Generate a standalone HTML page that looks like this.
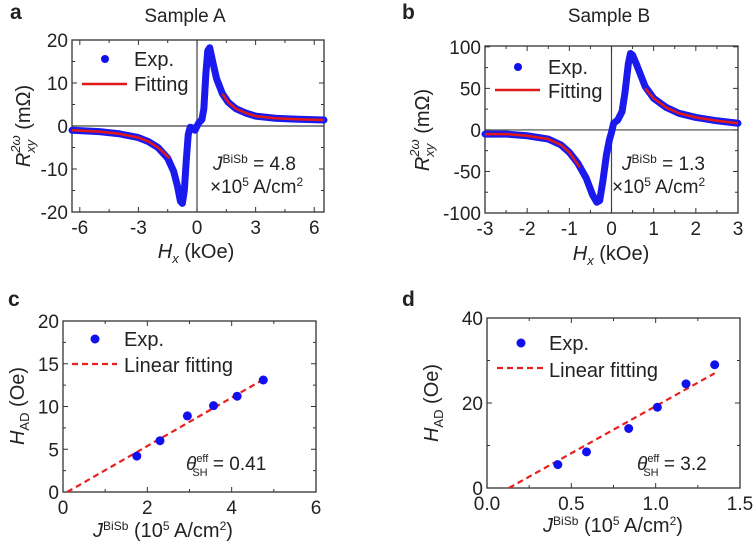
<!DOCTYPE html>
<html><head><meta charset="utf-8"><style>
body{margin:0;background:#fff}
svg{font-family:"Liberation Sans",Arial,sans-serif}
</style></head><body>
<svg id="fig" width="755" height="547" viewBox="0 0 755 547" xmlns="http://www.w3.org/2000/svg">
<g id="gA"></g>
<g id="gB"></g>
<g id="gC"></g>
<g id="gD"></g>
</svg>
<script>
// Panel a data
const aExpX=[-6.4,-5,-4,-3,-2.5,-2,-1.5,-1.2,-1,-0.85,-0.75,-0.65,-0.55,-0.45,-0.35,-0.2,-0.1,0,0.1,0.25,0.35,0.45,0.55,0.65,0.8,1,1.3,1.6,2,2.5,3,4,5,6.5];
const aExpY=[-1.0,-1.3,-1.8,-2.7,-3.6,-5,-7.5,-10.5,-14,-17.5,-18,-15,-8,-2,-0.3,-0.5,-1,0,0.8,1.5,4,12,17.5,18.2,15,11,7.5,5.5,4,3,2.3,1.8,1.6,1.4];
const aFitLX=[-6.4,-5,-4,-3,-2.5,-2,-1.7,-1.4];
const aFitLY=[-1.0,-1.3,-1.8,-2.7,-3.6,-5,-6.2,-7.5];
const aFitRX=[1.3,1.6,2,2.5,3,4,5,6.5];
const aFitRY=[7.5,5.5,4,3,2.3,1.8,1.6,1.4];
const aXTicks=[-6,-3,0,3,6];
const aYTicks=[-20,-10,0,10,20];
// Panel b data
const bExpX=[-3,-2.5,-2,-1.5,-1.2,-1,-0.8,-0.6,-0.45,-0.35,-0.28,-0.2,-0.12,-0.05,0,0.05,0.15,0.25,0.32,0.4,0.45,0.5,0.6,0.8,1,1.3,1.6,2,2.5,3];
const bExpY=[-5,-5,-7,-11,-18,-27,-40,-58,-78,-87,-85,-60,-30,-12,-3,8,12,22,45,80,92,90,78,52,38,27,20,15,11,8];
const bFitLX=[-3,-2.5,-2,-1.5,-1.2,-1,-0.75];
const bFitLY=[-5,-5,-7,-11,-18,-27,-45];
const bFitRX=[0.8,1,1.3,1.6,2,2.5,3];
const bFitRY=[50,38,27,20,15,11,8];
const bXTicks=[-3,-2,-1,0,1,2,3];
const bYTicks=[-100,-50,0,50,100];
// Panel c data
const cX=[1.75,2.3,2.95,3.57,4.13,4.75];
const cY=[4.2,6.0,8.9,10.1,11.2,13.1];
const cFitX=[0.1,4.8];
const cFitY=[0,13.3];
const cXTicks=[0,2,4,6];
const cYTicks=[0,5,10,15,20];
// Panel d data
const dX=[0.42,0.59,0.84,1.01,1.18,1.35];
const dY=[5.5,8.5,14,19,24.5,29];
const dFitX=[0.13,1.35];
const dFitY=[0,27];
const dXTicks=[0.0,0.5,1.0,1.5];
const dYTicks=[0,20,40];

const NS="http://www.w3.org/2000/svg";
function mk(p,t,at,txt){const e=document.createElementNS(NS,t);for(const k in at)e.setAttribute(k,at[k]);if(txt!=null)e.textContent=txt;p.appendChild(e);return e;}
function axes(g,box,xr,yr,xt,yt,xfmt,yfmt,zero){
  const sx=v=>box.x0+(v-xr[0])/(xr[1]-xr[0])*(box.x1-box.x0);
  const sy=v=>box.y1-(v-yr[0])/(yr[1]-yr[0])*(box.y1-box.y0);
  if(zero){
    const h=mk(g,'line',{x1:box.x0,x2:box.x1,y1:sy(0),y2:sy(0),stroke:'#444','stroke-width':1.2});
    
    const v=mk(g,'line',{x1:sx(0),x2:sx(0),y1:box.y0,y2:box.y1,stroke:'#444','stroke-width':1.2});
    
  }
  const all=[];
  for(let i=0;i<xt.length;i++){all.push(['x',xt[i],5]);if(i<xt.length-1)all.push(['x',(xt[i]+xt[i+1])/2,3]);}
  for(let i=0;i<yt.length;i++){all.push(['y',yt[i],5]);if(i<yt.length-1)all.push(['y',(yt[i]+yt[i+1])/2,3]);}
  all.forEach(([a,v,L])=>{
    if(a==='x'){const X=sx(v);mk(g,'line',{x1:X,x2:X,y1:box.y1,y2:box.y1-L,stroke:'#333'});mk(g,'line',{x1:X,x2:X,y1:box.y0,y2:box.y0+L,stroke:'#333'});}
    else{const Y=sy(v);mk(g,'line',{x1:box.x0,x2:box.x0+L,y1:Y,y2:Y,stroke:'#333'});mk(g,'line',{x1:box.x1,x2:box.x1-L,y1:Y,y2:Y,stroke:'#333'});}
  });
  xt.forEach(v=>{const t=mk(g,'text',{x:sx(v),y:box.y1+22,'text-anchor':'middle','font-size':19,fill:'#222'},xfmt(v));});
  yt.forEach(v=>{const t=mk(g,'text',{x:box.x0-4,y:sy(v)+7,'text-anchor':'end','font-size':19,fill:'#222'},yfmt(v));});
  const r=mk(g,'rect',{x:box.x0,y:box.y0,width:box.x1-box.x0,height:box.y1-box.y0,fill:'none',stroke:'#333','stroke-width':1.3});
  
  return [sx,sy];
}
function poly(g,xs,ys,sx,sy,st,name){
  const e=mk(g,'polyline',Object.assign({points:xs.map((x,i)=>sx(x)+','+sy(ys[i])).join(' '),fill:'none'},st));
  
}
function dots(g,xs,ys,sx,sy,r,name){
  xs.forEach((x,i)=>{const c=mk(g,'circle',{cx:sx(x),cy:sy(ys[i]),r:r,fill:'#1010ee'});});
}
function html(g,x,y,markup,attrs){const t=mk(g,'text',Object.assign({x:x,y:y,'font-size':19,fill:'#222'},attrs||{}));t.innerHTML=markup;return t;}
const f0=v=>String(v), f1=v=>v.toFixed(1);

// Panel A
(function(){const g=document.getElementById('gA');
 const [sx,sy]=axes(g,{x0:72,x1:324,y0:40,y1:212},[-6.4,6.5],[-20,20],aXTicks,aYTicks,f0,f0,true);
 poly(g,aExpX,aExpY,sx,sy,{stroke:'#1a1aee','stroke-width':7,'stroke-linejoin':'round','stroke-linecap':'round'},'exp-data-a');
 poly(g,aFitLX,aFitLY,sx,sy,{stroke:'#e01818','stroke-width':2.5},'fit-line-a-left');
 poly(g,aFitRX,aFitRY,sx,sy,{stroke:'#e01818','stroke-width':2.5},'fit-line-a-right');
 let t=html(g,10,19,'a',{'font-weight':'bold','font-size':21});
 t=html(g,185,22,'Sample A',{'text-anchor':'middle'});
 const c=mk(g,'circle',{cx:105,cy:59,r:4,fill:'#1010ee'});
 t=html(g,134,66,'Exp.',{'font-size':20});
 const l=mk(g,'line',{x1:82,x2:127,y1:84,y2:84,stroke:'#e01818','stroke-width':2.5});
 t=html(g,134,91,'Fitting',{'font-size':20});
 t=html(g,213,170,'<tspan font-style="italic">J</tspan><tspan dy="-7" font-size="12">BiSb</tspan><tspan dy="7"> = 4.8</tspan>');
 t=html(g,210,193,'×10<tspan dy="-7" font-size="12">5</tspan><tspan dy="7"> A/cm</tspan><tspan dy="-7" font-size="12">2</tspan>');
 t=html(g,0,0,'<tspan font-style="italic">R</tspan><tspan dy="5" font-size="13" font-style="italic">xy</tspan><tspan dx="-13" dy="-15" font-size="13" font-style="italic">2ω</tspan><tspan dy="10"> (mΩ)</tspan>',{transform:'translate(30,126) rotate(-90)','text-anchor':'middle','font-size':20});
 t=html(g,196,258,'<tspan font-style="italic">H</tspan><tspan dy="5" font-size="13" font-style="italic">x</tspan><tspan dy="-5"> (kOe)</tspan>',{'text-anchor':'middle','font-size':20});
})();
// Panel B
(function(){const g=document.getElementById('gB');
 const [sx,sy]=axes(g,{x0:485,x1:738,y0:46,y1:213},[-3,3],[-100,101],bXTicks,bYTicks,f0,f0,true);
 poly(g,bExpX,bExpY,sx,sy,{stroke:'#1a1aee','stroke-width':7,'stroke-linejoin':'round','stroke-linecap':'round'},'exp-data-b');
 poly(g,bFitLX,bFitLY,sx,sy,{stroke:'#e01818','stroke-width':2.5},'fit-line-b-left');
 poly(g,bFitRX,bFitRY,sx,sy,{stroke:'#e01818','stroke-width':2.5},'fit-line-b-right');
 let t=html(g,402,19,'b',{'font-weight':'bold','font-size':21});
 t=html(g,609,22,'Sample B',{'text-anchor':'middle'});
 const c=mk(g,'circle',{cx:518,cy:67,r:4,fill:'#1010ee'});
 t=html(g,548,74,'Exp.',{'font-size':20});
 const l=mk(g,'line',{x1:495,x2:540,y1:90,y2:90,stroke:'#e01818','stroke-width':2.5});
 t=html(g,548,98,'Fitting',{'font-size':20});
 t=html(g,622,170,'<tspan font-style="italic">J</tspan><tspan dy="-7" font-size="12">BiSb</tspan><tspan dy="7"> = 1.3</tspan>');
 t=html(g,612,193,'×10<tspan dy="-7" font-size="12">5</tspan><tspan dy="7"> A/cm</tspan><tspan dy="-7" font-size="12">2</tspan>');
 t=html(g,0,0,'<tspan font-style="italic">R</tspan><tspan dy="5" font-size="13" font-style="italic">xy</tspan><tspan dx="-13" dy="-15" font-size="13" font-style="italic">2ω</tspan><tspan dy="10"> (mΩ)</tspan>',{transform:'translate(429,130) rotate(-90)','text-anchor':'middle','font-size':20});
 t=html(g,611,260,'<tspan font-style="italic">H</tspan><tspan dy="5" font-size="13" font-style="italic">x</tspan><tspan dy="-5"> (kOe)</tspan>',{'text-anchor':'middle','font-size':20});
})();
// Panel C
(function(){const g=document.getElementById('gC');
 const [sx,sy]=axes(g,{x0:63,x1:316,y0:321,y1:492},[0,6],[0,20],cXTicks,cYTicks,f0,f0,false);
 poly(g,cFitX,cFitY,sx,sy,{stroke:'#e82020','stroke-width':2.2,'stroke-dasharray':'6,4'},'linear-fit-c');
 dots(g,cX,cY,sx,sy,4.5,'exp-point-c');
 let t=html(g,8,306,'c',{'font-weight':'bold','font-size':21});
 const c=mk(g,'circle',{cx:95,cy:339,r:4.5,fill:'#1010ee'});
 t=html(g,124,346,'Exp.',{'font-size':20});
 const l=mk(g,'line',{x1:72,x2:117,y1:364,y2:364,stroke:'#e82020','stroke-width':2.2,'stroke-dasharray':'6,4'});
 t=html(g,124,372,'Linear fitting',{'font-size':20});
 t=html(g,186,470,'<tspan font-style="italic">θ</tspan><tspan dy="-8" font-size="11">eff</tspan><tspan dx="-16" dy="14" font-size="11">SH</tspan><tspan dy="-6"> = 0.41</tspan>');
 t=html(g,0,0,'<tspan font-style="italic">H</tspan><tspan dy="5" font-size="13">AD</tspan><tspan dy="-5"> (Oe)</tspan>',{transform:'translate(24,406) rotate(-90)','text-anchor':'middle','font-size':20});
 t=html(g,163,537,'<tspan font-style="italic">J</tspan><tspan dy="-7" font-size="12">BiSb</tspan><tspan dy="7"> (10</tspan><tspan dy="-7" font-size="12">5</tspan><tspan dy="7"> A/cm</tspan><tspan dy="-7" font-size="12">2</tspan><tspan dy="7">)</tspan>',{'text-anchor':'middle','font-size':20});
})();
// Panel D
(function(){const g=document.getElementById('gD');
 const [sx,sy]=axes(g,{x0:487,x1:740,y0:318,y1:488},[0,1.5],[0,40],dXTicks,dYTicks,f1,f0,false);
 poly(g,dFitX,dFitY,sx,sy,{stroke:'#e82020','stroke-width':2.2,'stroke-dasharray':'6,4'},'linear-fit-d');
 dots(g,dX,dY,sx,sy,4.5,'exp-point-d');
 let t=html(g,402,306,'d',{'font-weight':'bold','font-size':21});
 const c=mk(g,'circle',{cx:521,cy:343,r:4.5,fill:'#1010ee'});
 t=html(g,549,350,'Exp.',{'font-size':20});
 const l=mk(g,'line',{x1:497,x2:543,y1:368,y2:368,stroke:'#e82020','stroke-width':2.2,'stroke-dasharray':'6,4'});
 t=html(g,549,377,'Linear fitting',{'font-size':20});
 t=html(g,637,470,'<tspan font-style="italic">θ</tspan><tspan dy="-8" font-size="11">eff</tspan><tspan dx="-16" dy="14" font-size="11">SH</tspan><tspan dy="-6"> = 3.2</tspan>');
 t=html(g,0,0,'<tspan font-style="italic">H</tspan><tspan dy="5" font-size="13">AD</tspan><tspan dy="-5"> (Oe)</tspan>',{transform:'translate(438,403) rotate(-90)','text-anchor':'middle','font-size':20});
 t=html(g,613,532,'<tspan font-style="italic">J</tspan><tspan dy="-7" font-size="12">BiSb</tspan><tspan dy="7"> (10</tspan><tspan dy="-7" font-size="12">5</tspan><tspan dy="7"> A/cm</tspan><tspan dy="-7" font-size="12">2</tspan><tspan dy="7">)</tspan>',{'text-anchor':'middle','font-size':20});
})();
</script>
</body></html>
